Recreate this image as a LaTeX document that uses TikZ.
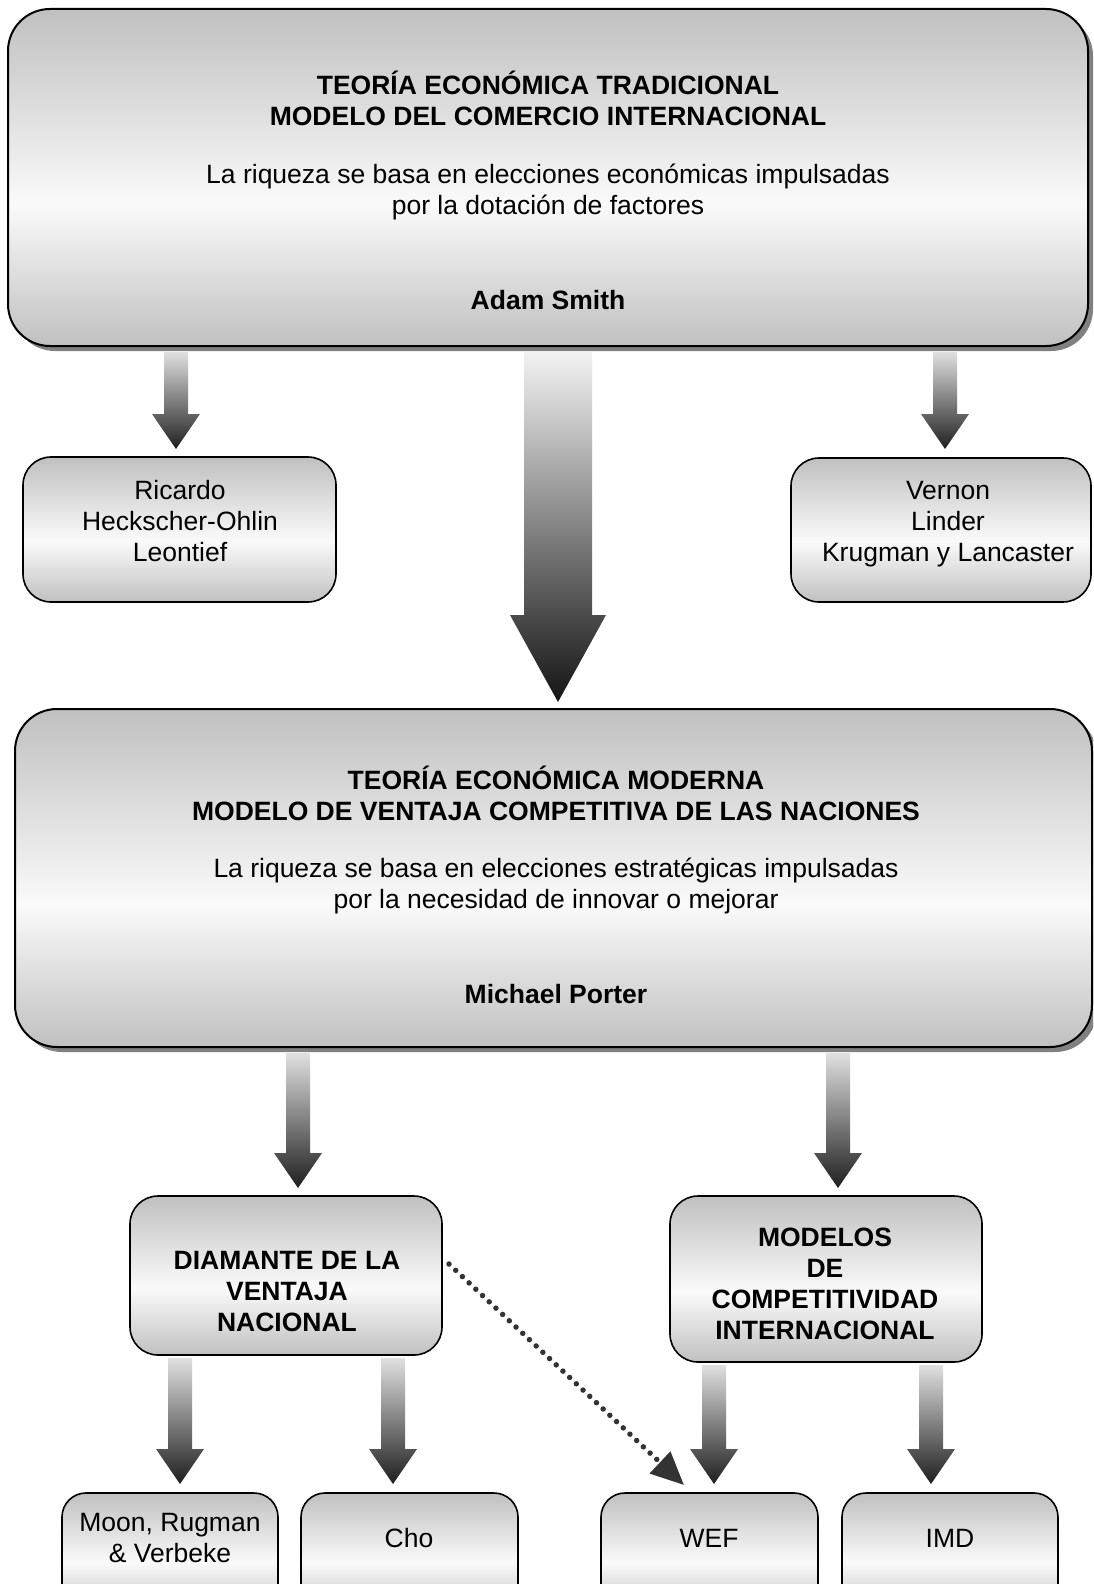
\documentclass[tikz,border=0pt]{standalone}
\usepackage{fontspec}
\setmainfont{Liberation Sans}
\usetikzlibrary{calc,shadows,arrows.meta}

\definecolor{boxgray}{RGB}{192,192,192}
\definecolor{shadowgray}{RGB}{128,128,128}
\definecolor{dotgray}{RGB}{51,51,51}

% grey at top and bottom, almost white a little below the middle
\pgfdeclareverticalshading{boxfill}{100bp}{%
  color(0bp)=(boxgray); color(25bp)=(boxgray);
  color(46bp)=(white!98!black);
  color(75bp)=(boxgray); color(100bp)=(boxgray)}

% block arrow: [gap below source]{source}{target}{x}{tip gap}
\newcommand\flowarrow[5][6]{%
  \shade[arrowshade] let \p1=(#2.south), \p2=(#3.north) in
    (#4pt-12pt,\y1-#1pt) -- (#4pt+12pt,\y1-#1pt)
    -- (#4pt+12pt,\y2+#5pt+35pt) -- (#4pt+24pt,\y2+#5pt+35pt)
    -- (#4pt,\y2+#5pt)
    -- (#4pt-24pt,\y2+#5pt+35pt) -- (#4pt-12pt,\y2+#5pt+35pt) -- cycle;}

\begin{document}
\begin{tikzpicture}[x=1pt,y=-1pt,
  panel/.style={draw=black, line width=1.6pt, shading=boxfill,
    rounded corners=#1, anchor=north west, inner sep=0pt, outer sep=0pt},
  bigpanel/.style={panel=42pt, line width=2pt,
    drop shadow={shadow xshift=5pt, shadow yshift=-5pt,
      fill=shadowgray, opacity=1}},
  bodytext/.style={font=\fontsize{26.5}{31}\selectfont, align=center,
    inner sep=0pt},
  headtext/.style={font=\fontsize{26.5}{31}\selectfont\bfseries,
    align=center, inner sep=0pt},
  arrowshade/.style={top color=white!88!black, bottom color=black!88},
  bigarrowshade/.style={top color=white!95!black, bottom color=black!92},
  dotlink/.style={draw=dotgray, line width=5.5pt, line cap=round,
    dash pattern=on 0pt off 9.2pt,
    -{Triangle[length=33pt,width=29pt,fill=dotgray]}}]

\useasboundingbox (0,0) rectangle (1093,1584);
\clip (0,0) rectangle (1093,1584);

% ---------- boxes ----------
\node[bigpanel, minimum width=1080pt, minimum height=337pt] (top) at (8,9) {};
\node[bigpanel, minimum width=1077pt, minimum height=338pt] (mid) at (15,709) {};
\node[panel=28pt, minimum width=313pt, minimum height=145pt] (ric) at (23,457) {};
\node[panel=28pt, minimum width=300pt, minimum height=144pt] (ver) at (791,458) {};
\node[panel=28pt, minimum width=312pt, minimum height=159pt] (dia) at (130,1196) {};
\node[panel=28pt, minimum width=312pt, minimum height=166pt] (mod) at (670,1196) {};
\node[panel=24pt, minimum width=216pt, minimum height=120pt] (moon) at (62,1493) {};
\node[panel=24pt, minimum width=217pt, minimum height=120pt] (cho) at (301,1493) {};
\node[panel=24pt, minimum width=217pt, minimum height=120pt] (wef) at (601,1493) {};
\node[panel=24pt, minimum width=216pt, minimum height=120pt] (imd) at (842,1493) {};

% ---------- texts ----------
\node[headtext] (top-title) at (548,98)
  {TEORÍA ECONÓMICA TRADICIONAL\\MODELO DEL COMERCIO INTERNACIONAL};
\node[bodytext] (top-text) at (548,191.5)
  {La riqueza se basa en elecciones económicas impulsadas\\por la dotación de factores};
\node[headtext] (top-author) at (548,300) {Adam Smith};

\node[headtext] (mid-title) at (556,793.5)
  {TEORÍA ECONÓMICA MODERNA\\MODELO DE VENTAJA COMPETITIVA DE LAS NACIONES};
\node[bodytext] (mid-text) at (556,886)
  {La riqueza se basa en elecciones estratégicas impulsadas\\por la necesidad de innovar o mejorar};
\node[headtext] (mid-author) at (556,994) {Michael Porter};

\node[bodytext] (ric-text) at (180,521) {Ricardo\\Heckscher-Ohlin\\Leontief};
\node[bodytext] (ver-text) at (948,524) {Vernon\\Linder\\Krugman y Lancaster};
\node[headtext] (dia-text) at (287,1291) {DIAMANTE DE LA\\VENTAJA\\NACIONAL};
\node[headtext] (mod-text) at (825,1283.5) {MODELOS\\DE\\COMPETITIVIDAD\\INTERNACIONAL};
\node[bodytext] (moon-text) at (170,1538) {Moon, Rugman\\\& Verbeke};
\node[bodytext] (cho-text) at (409,1538) {Cho};
\node[bodytext] (wef-text) at (709,1538) {WEF};
\node[bodytext] (imd-text) at (950,1538) {IMD};

% ---------- block arrows ----------
\flowarrow{top}{ric}{176}{8}
\flowarrow{top}{ver}{945}{9}
\shade[bigarrowshade] let \p1=(top.south), \p2=(mid.north) in
  (558pt-34pt,\y1-6pt) -- (558pt+34pt,\y1-6pt)
  -- (558pt+34pt,\y2+7pt+87pt) -- (558pt+48pt,\y2+7pt+87pt)
  -- (558pt,\y2+7pt)
  -- (558pt-48pt,\y2+7pt+87pt) -- (558pt-34pt,\y2+7pt+87pt) -- cycle;

\flowarrow{mid}{dia}{298}{8}
\flowarrow{mid}{mod}{838}{8}

\flowarrow[3]{dia}{moon}{180}{9}
\flowarrow[3]{dia}{cho}{393}{9}
\flowarrow[3]{mod}{wef}{714}{9}
\flowarrow[3]{mod}{imd}{931}{9}

% ---------- dotted link ----------
\draw[dotlink] ($(dia.east)+(7,-11.5)$) -- ($(wef.north west)+(83,-8)$);

\end{tikzpicture}
\end{document}
